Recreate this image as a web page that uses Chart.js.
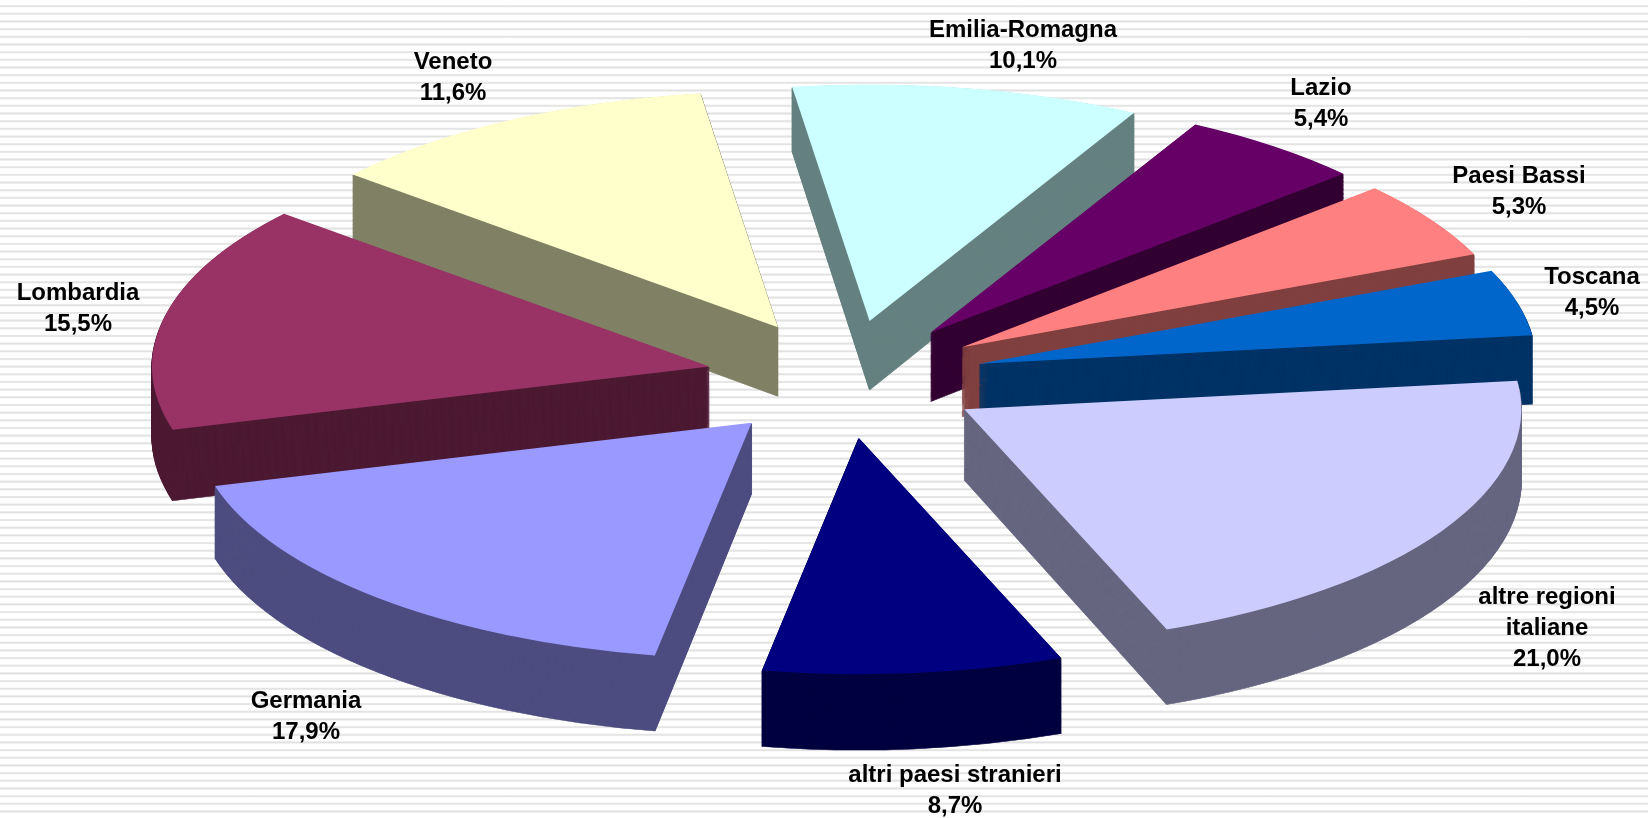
<!DOCTYPE html>
<html>
<head>
<meta charset="utf-8">
<title>Provenienza</title>
<script src="https://cdn.jsdelivr.net/npm/chart.js@4"></script>
<style>
    html, body { margin: 0; padding: 0; background: #fff; }
    /* striped slide background */
    #wrap {
        width: 1648px;
        height: 818px;
        background-image: repeating-linear-gradient(to bottom,
            #fff 0, #fff 4.6px, #ececec 5.2px, #e0e0e0 6.2px, #ececec 7px, #fff 7.67px);
    }
</style>
</head>
<body>
<div id="wrap"><canvas id="pieChart" width="1648" height="818"></canvas></div>
<script>
const categories = ['Emilia-Romagna', 'Lazio', 'Paesi Bassi', 'Toscana', 'altre regioni\nitaliane',
    'altri paesi stranieri', 'Germania', 'Lombardia', 'Veneto'];
const shares = [10.1, 5.4, 5.3, 4.5, 21.0, 8.7, 17.9, 15.5, 11.6];
const topColors = ['#CCFFFF', '#660066', '#FF8080', '#0066CC', '#CCCCFF', '#000080', '#9999FF', '#993366', '#FFFFCC'];
const sideColors = ['#668080', '#330033', '#804040', '#003366', '#666680', '#000040', '#4D4D80', '#4D1A33', '#808066'];

// Centre of each label block, same order as categories
const labelCentres = [[1023, 46], [1321, 104], [1519, 192], [1592, 293], [1547, 628], [955, 791], [306, 717], [78, 309], [453, 78]];

const tilt = 0.4245;      // how flat the pie looks
const sideDepth = 70;     // height of the slice walls in pixels
const perspective = 0.02; // walls get a bit taller towards the viewer
const lineHeight = 31;
const explode = 139;      // how far slices move out from the centre

// Draws the flattened pie with walls, back slices first
const tiltedPie = {
    id: 'tiltedPie',
    beforeDatasetDraw(chart, args) {
        const ctx = chart.ctx;
        const arcs = args.meta.data.slice().sort((a, b) =>
            Math.sin((a.startAngle + a.endAngle) / 2) - Math.sin((b.startAngle + b.endAngle) / 2));
        const cy = (chart.chartArea.top + chart.chartArea.bottom) / 2;

        // Put one slice on the flattened plane, moved out along its middle angle
        function drawAt(arc, drop) {
            const mid = (arc.startAngle + arc.endAngle) / 2;
            ctx.save();
            ctx.translate(0, cy + drop);
            ctx.scale(1, tilt * (1 + perspective * drop / sideDepth));
            ctx.translate(Math.cos(mid) * explode, Math.sin(mid) * explode - cy);
            arc.draw(ctx);
            ctx.restore();
        }

        arcs.forEach(arc => {
            const i = args.meta.data.indexOf(arc);
            const topOptions = arc.options;

            // wall: same slice repeated downwards in the dark colour
            arc.options = Object.assign({}, topOptions, {
                backgroundColor: sideColors[i],
                borderColor: sideColors[i],
                borderWidth: 1.2
            });
            for (let d = sideDepth; d > 0; d--) {
                drawAt(arc, d);
            }
            arc.options = topOptions;
            drawAt(arc, 0);
        });
        return false;
    },
    afterDatasetsDraw(chart) {
        const ctx = chart.ctx;
        ctx.save();
        ctx.font = 'bold 24px "Liberation Sans"';
        ctx.fillStyle = '#000';
        ctx.textAlign = 'center';
        ctx.textBaseline = 'middle';
        categories.forEach((name, i) => {
            const lines = name.split('\n');
            lines.push(shares[i].toFixed(1).replace('.', ',') + '%');
            const firstY = labelCentres[i][1] - (lines.length - 1) * lineHeight / 2;
            lines.forEach((line, n) => ctx.fillText(line, labelCentres[i][0], firstY + n * lineHeight));
        });
        ctx.restore();
    }
};

new Chart(document.getElementById('pieChart'), {
    type: 'pie',
    data: {
        labels: categories,
        datasets: [{
            data: shares,
            backgroundColor: topColors,
            borderWidth: 0
        }]
    },
    options: {
        responsive: false,
        animation: false,
        rotation: -8,
        radius: 557,
        layout: { padding: { left: 42, bottom: 60 } },
        plugins: {
            legend: { display: false },
            tooltip: { enabled: false }
        }
    },
    plugins: [tiltedPie]
});
</script>
</body>
</html>
